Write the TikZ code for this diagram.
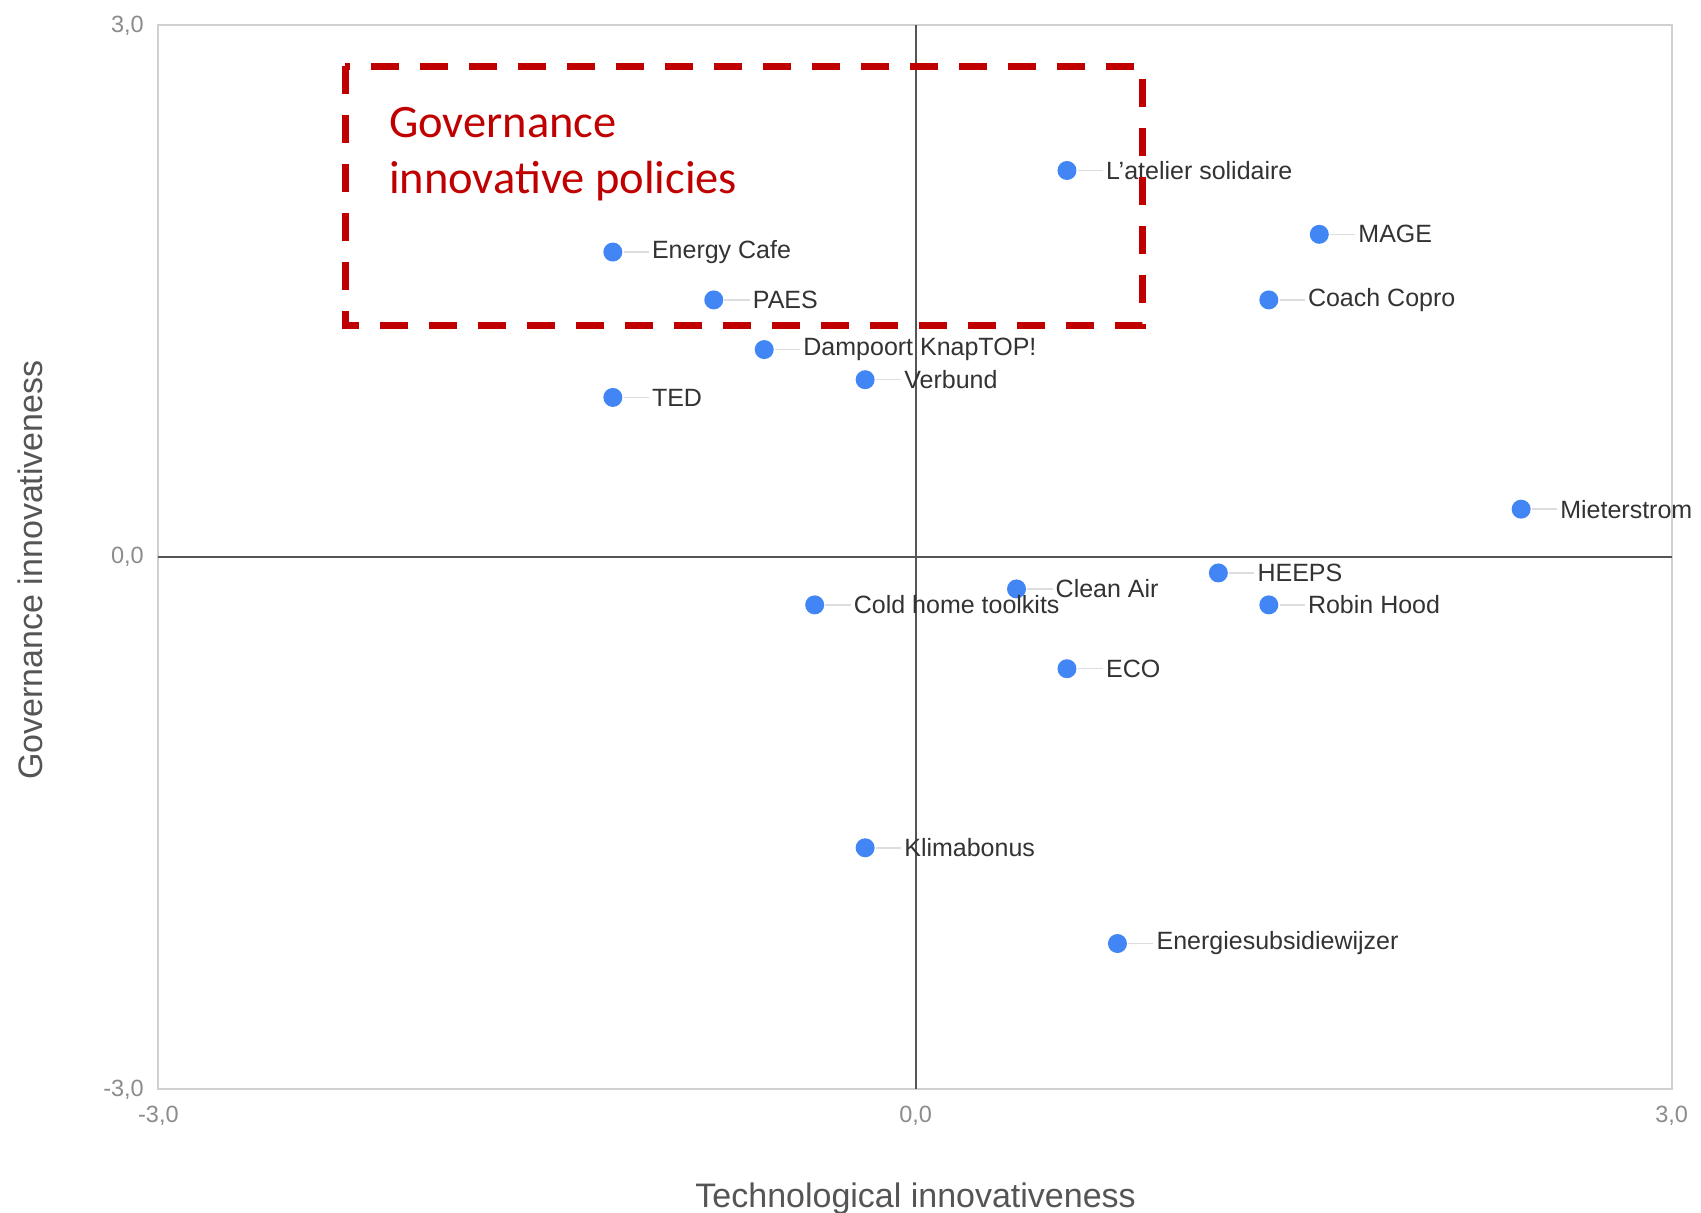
\documentclass[tikz,border=0pt]{standalone}
\usepackage{fontspec}
\setmainfont{Liberation Sans}
\newfontfamily\calfont{Carlito}
\definecolor{dotblue}{HTML}{4285F4}
\definecolor{boxred}{HTML}{C00000}
\definecolor{framegray}{HTML}{D0D0D0}
\definecolor{axisgray}{HTML}{555555}
\definecolor{tickgray}{HTML}{8C8C8C}
\definecolor{labgray}{HTML}{333333}
\definecolor{leadgray}{HTML}{DDDDDD}
\definecolor{titlegray}{HTML}{555555}
\tikzset{
  dot/.style={circle, fill=dotblue, minimum size=19pt, inner sep=0pt},
  lab/.style={font=\fontsize{25}{30}\selectfont, text=labgray, inner sep=0pt, anchor=west},
  leader/.style={draw=leadgray, line width=1.5pt},
  tick/.style={font=\fontsize{23.5}{28}\selectfont, text=tickgray, inner sep=0pt},
  axtitle/.style={font=\fontsize{34}{40}\selectfont, text=titlegray, inner sep=0pt},
  redtitle/.style={font=\calfont\fontsize{46.5}{56}\selectfont, text=boxred, inner sep=0pt, anchor=base west},
}
\begin{document}
\begin{tikzpicture}[x=1pt,y=-1pt]
\useasboundingbox[fill=white] (0,0) rectangle (1701,1213);
% frame
\draw[framegray, line width=2pt] (158.4,25) rectangle (1671.7,1089);
% zero axes
\coordinate (xl) at (158.4,557);
\coordinate (xr) at (1671.7,557);
\coordinate (yt) at (915.6,25);
\coordinate (yb) at (915.6,1089);
\draw[axisgray, line width=2pt] (xl) -- (xr);
\draw[axisgray, line width=2pt] (yt) -- (yb);
% tick labels
\node[tick, anchor=east] (ty1) at (144,26) {3,0};
\node[tick, anchor=east] (ty2) at (144,557) {0,0};
\node[tick, anchor=east] (ty3) at (144,1090) {-3,0};
\node[tick] (tx1) at (158.4,1116) {-3,0};
\node[tick] (tx2) at (915.6,1116) {0,0};
\node[tick] (tx3) at (1671.7,1116) {3,0};
% axis titles
\node[axtitle] (xt) at (915.6,1199) {Technological innovativeness};
\node[axtitle, rotate=90] (yt2) at (30,570) {Governance innovativeness};
% data
\begin{scope}[shift={(915.6pt,-557pt)}, x=252.3pt, y=177.3pt]
\foreach \i/\px/\py/\lab in {
  1/0.6/2.18/{L'atelier solidaire},
  2/1.6/1.82/{MAGE},
  3/1.4/1.45/{Coach Copro},
  4/-1.2/1.72/{Energy Cafe},
  5/-0.8/1.45/{PAES},
  6/-0.6/1.17/{Dampoort KnapTOP!},
  7/-0.2/1.0/{Verbund},
  8/-1.2/0.9/{TED},
  9/2.4/0.27/{Mieterstrom},
  10/1.2/-0.09/{HEEPS},
  11/0.4/-0.18/{Clean Air},
  12/-0.4/-0.27/{Cold home toolkits},
  13/1.4/-0.27/{Robin Hood},
  14/0.6/-0.63/{ECO},
  15/-0.2/-1.64/{Klimabonus},
  16/0.8/-2.18/{Energiesubsidiewijzer}} {
  \node[dot] (p\i) at (\px,\py) {};
  \node[lab] (l\i) at ([xshift=39pt]p\i.center) {\lab};
  \draw[leader] ([xshift=1pt]p\i.east) -- ([xshift=-3pt]l\i.west);
}
\end{scope}
% red dashed box
\draw[boxred, line width=7pt, dash pattern=on 28pt off 21pt] (345,66) rectangle (1142,325);
\node[redtitle] (rt1) at (389,137) {Governance};
\node[redtitle] (rt2) at (389,193) {innovative policies};
\end{tikzpicture}
\end{document}
